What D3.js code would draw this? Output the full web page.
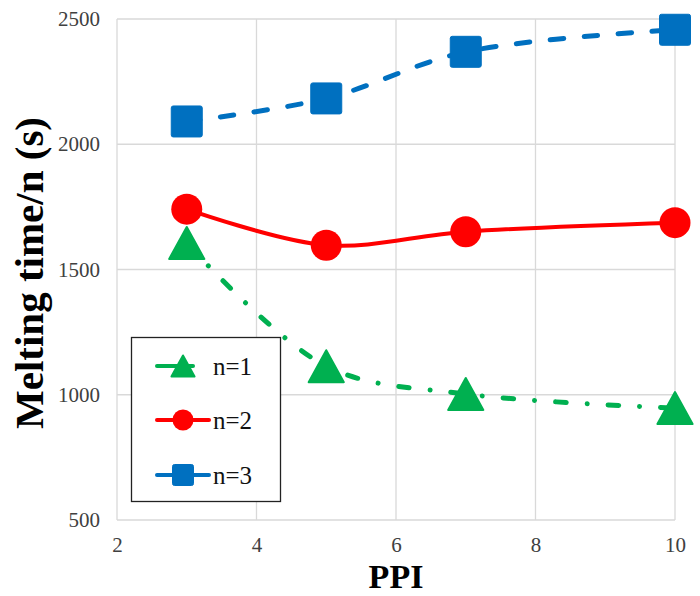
<!DOCTYPE html>
<html>
<head>
<meta charset="utf-8">
<script src="https://cdn.jsdelivr.net/npm/d3@7"></script>
<style>
  html, body { margin: 0; padding: 0; background: #fff; }
  svg { display: block; }
</style>
</head>
<body>
<svg id="chart" width="700" height="596"></svg>
<script>
// Melting time per n versus PPI
const ppi = [3, 5, 7, 10];
const seriesNames = ["n=1", "n=2", "n=3"];
const n1Values = [1606, 1114, 1003, 947];
const n2Values = [1741, 1597, 1651, 1687];
const n3Values = [2091, 2183, 2369, 2457];
const xTicks = [2, 4, 6, 8, 10];
const yTicks = [500, 1000, 1500, 2000, 2500];

const svg = d3.select("#chart");
const margin = { left: 117, right: 25, top: 19, bottom: 76 };
const W = 700, H = 596;

const x = d3.scaleLinear().domain([2, 10]).range([margin.left, W - margin.right]);
const y = d3.scaleLinear().domain([500, 2500]).range([H - margin.bottom, margin.top]);

const serif = "'Liberation Serif', 'Times New Roman', serif";

// gridlines
const grid = svg.append("g");
grid.selectAll("line.v").data(xTicks).join("line")
  .attr("x1", d => x(d)).attr("x2", d => x(d))
  .attr("y1", y(500)).attr("y2", y(2500))
  .attr("stroke", "#d9d9d9").attr("stroke-width", 1.3);
grid.selectAll("line.h").data(yTicks).join("line")
  .attr("x1", x(2)).attr("x2", x(10))
  .attr("y1", d => y(d)).attr("y2", d => y(d))
  .attr("stroke", "#d9d9d9").attr("stroke-width", 1.3);

// axes (labels only)
const xAxis = svg.append("g").attr("transform", `translate(0,${y(500) + 14})`)
  .call(d3.axisBottom(x).tickValues(xTicks).tickSize(0).tickFormat(d3.format("d")));
const yAxis = svg.append("g").attr("transform", `translate(${x(2) - 14},0)`)
  .call(d3.axisLeft(y).tickValues(yTicks).tickSize(0).tickFormat(d3.format("d")));
[xAxis, yAxis].forEach(a => {
  a.attr("font-family", serif).attr("font-size", 21);
  a.select(".domain").remove();
  a.selectAll("text").attr("fill", "#404040");
});

// axis titles
svg.append("text")
  .attr("x", x(6)).attr("y", 588)
  .attr("text-anchor", "middle")
  .attr("font-family", serif).attr("font-weight", "bold").attr("font-size", 34)
  .attr("fill", "#000").text("PPI");
svg.append("text")
  .attr("transform", `translate(43,273) rotate(-90)`)
  .attr("text-anchor", "middle")
  .attr("font-family", serif).attr("font-weight", "bold").attr("font-size", 41)
  .attr("fill", "#000").text("Melting time/n (s)");

const series = [
  { name: seriesNames[0], values: n1Values, color: "#00B050", dash: "10.5,21,0.01,21", width: 5, shape: "triangle" },
  { name: seriesNames[1], values: n2Values, color: "#FF0000", dash: null, width: 4, shape: "circle" },
  { name: seriesNames[2], values: n3Values, color: "#0070C0", dash: "13.5,20.5", width: 5, shape: "square" }
];

const line = d3.line()
  .x(d => x(d[0])).y(d => y(d[1]))
  .curve(d3.curveCatmullRom.alpha(0.5));

function drawMarker(g, shape, color, size) {
  if (shape === "circle") {
    g.append("circle").attr("r", size / 2).attr("fill", color);
  } else if (shape === "square") {
    g.append("rect").attr("x", -size / 2).attr("y", -size / 2)
      .attr("width", size).attr("height", size).attr("rx", 2)
      .attr("fill", color).attr("stroke", color).attr("stroke-width", 1);
  } else {
    const h = size;
    g.append("path")
      .attr("d", `M0,${-h / 2} L${h * 0.55},${h / 2} L${-h * 0.55},${h / 2} Z`)
      .attr("fill", color).attr("stroke", color).attr("stroke-width", 2)
      .attr("stroke-linejoin", "round");
  }
}

series.forEach(s => {
  const pts = ppi.map((p, i) => [p, s.values[i]]);
  svg.append("path")
    .attr("d", line(pts))
    .attr("fill", "none")
    .attr("stroke", s.color)
    .attr("stroke-width", s.width)
    .attr("stroke-dasharray", s.dash)
    .attr("stroke-linecap", "round");
  pts.forEach(p => {
    const g = svg.append("g").attr("transform", `translate(${x(p[0])},${y(p[1])})`);
    drawMarker(g, s.shape, s.color, s.shape === "triangle" ? 32 : 31);
  });
});

// legend
const legend = svg.append("g");
legend.append("rect")
  .attr("x", 131.5).attr("y", 337.5).attr("width", 149).attr("height", 164)
  .attr("fill", "#fff").attr("stroke", "#222").attr("stroke-width", 1.3);
const legendY = [366, 420, 475];
series.forEach((s, i) => {
  const g = legend.append("g").attr("transform", `translate(0,${legendY[i]})`);
  g.append("line").attr("x1", 157).attr("x2", i === 0 ? 193 : 209)
    .attr("y1", 0).attr("y2", 0)
    .attr("stroke", s.color).attr("stroke-width", 4)
    .attr("stroke-linecap", "round");
  const m = g.append("g").attr("transform", "translate(183,0)");
  drawMarker(m, s.shape, s.color, 21);
  g.append("text").attr("x", 213).attr("y", 0).attr("dy", "0.35em")
    .attr("font-family", serif).attr("font-size", 25).attr("fill", "#111")
    .text(s.name);
});
</script>
</body>
</html>
